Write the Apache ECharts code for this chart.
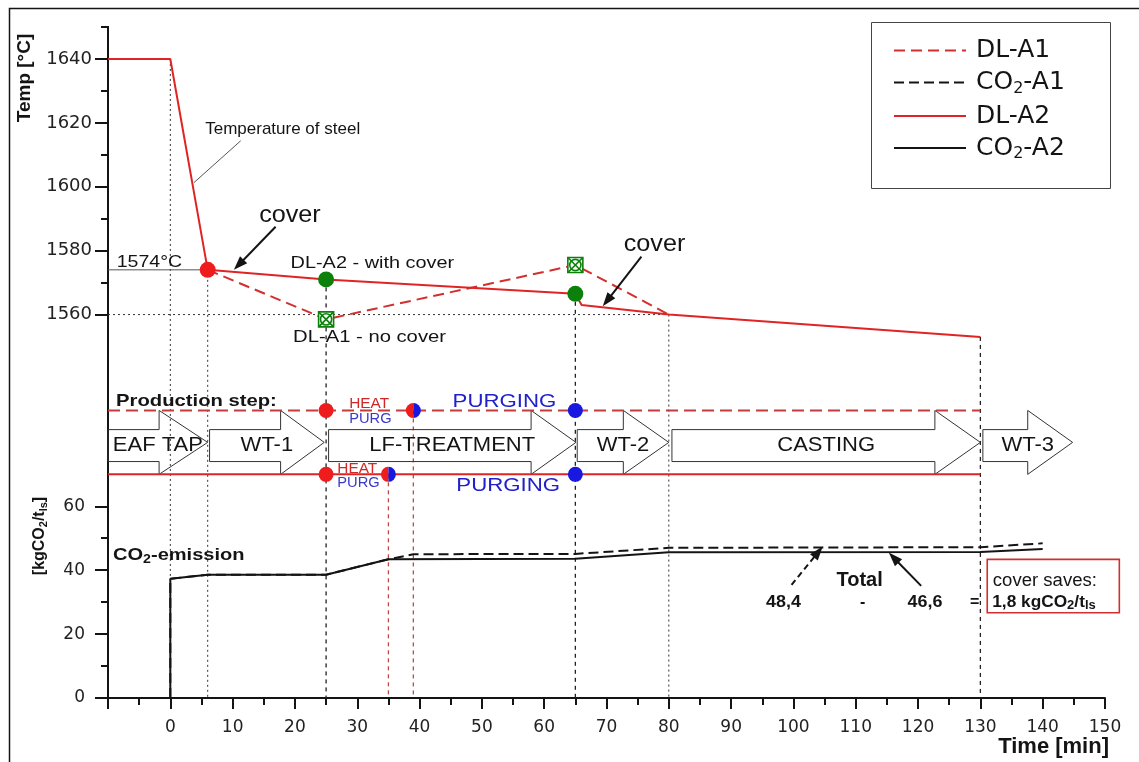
<!DOCTYPE html>
<html><head><meta charset="utf-8">
<script src="https://cdn.jsdelivr.net/npm/echarts@6/dist/echarts.min.js"></script>
<style>html,body{margin:0;padding:0;background:#fff}#c{width:1139px;height:762px}</style>
</head><body><div id="c"></div>
<script>
// ---------- data ----------
const timeTicks = [0,10,20,30,40,50,60,70,80,90,100,110,120,130,140,150];
const tempTicks = [1560,1580,1600,1620,1640];
const tempMinorTicks = [1570,1590,1610,1630,1650];
const co2Ticks = [0,20,40,60];
const co2MinorTicks = [10,30,50];

// temperature of steel [°C]
const dlA2Time = [-10, 0, 6, 25, 65, 66, 80, 130];
const dlA2Temp = [1640, 1640, 1574, 1571, 1566.5, 1563, 1560, 1553];
const dlA1Time = [6, 25, 65, 80];
const dlA1Temp = [1574, 1558.5, 1575.5, 1560];

// CO2 emission [kgCO2/tls]
const co2A2Time = [0, 0, 6, 25, 35, 65, 80, 130, 140];
const co2A2Val  = [0, 37.3, 38.6, 38.6, 43.4, 43.6, 45.6, 45.7, 46.6];
const co2A1Time = [0, 0, 6, 25, 35, 39, 65, 80, 130, 140];
const co2A1Val  = [0, 37.3, 38.6, 38.6, 43.4, 45.0, 45.1, 47.0, 47.2, 48.4];

// markers on temperature curves
const redDots = [[6, 1574]];
const greenDots = [[25, 1571], [65, 1566.5]];
const noCoverMarks = [[25, 1558.5], [65, 1575.5]];

// production steps (time, min)
const steps = ['EAF TAP', 'WT-1', 'LF-TREATMENT', 'WT-2', 'CASTING', 'WT-3'];
const stepStart = [-10, 6.3, 25.4, 65.3, 80.5, 130.4];
const stepHead  = [-1.8, 17.7, 57.9, 72.7, 122.7, 137.6];
const stepTip   = [6, 24.7, 65.1, 80, 130, 144.8];
const stepEnd = 130;
const levelA1 = 90, levelA2 = 70;   // production-step rows (lower axis units)
const heatDots = [[25, levelA1], [25, levelA2]];
const purgeDots = [[65, levelA1], [65, levelA2]];
const halfDots = [[39, levelA1], [35, levelA2]];

// guide lines [t1, v1, t2, v2]
const guideDotted = [[0,1640,0,1440],[6,1574,6,1440],[80,1560,80,1440],[-10,1560,80,1560]];
const guideDashed = [[25,1571,25,1440],[65,1566.5,65,1440],[130,1553,130,1440]];
const guideRed = [[35,levelA2,35,0],[39,levelA1,39,0]];
const guideGray = [[-10,1574,6,1574]];

// ---------- styles / helpers ----------
const F = '"Liberation Sans", Arial, sans-serif';
const D = '"DejaVu Sans", sans-serif';
const RED = '#e02424', DRED = '#c43c3c', BLUE = '#1818e0', GREEN = '#0b800b', INK = '#141414';

function segSeries(name, yIdx, rows, style, z) {
  return { type: 'custom', name, xAxisIndex: 0, yAxisIndex: yIdx, z, silent: true,
    data: rows, encode: { x: [0, 2], y: [1, 3] },
    renderItem: (p, api) => {
      const a = api.coord([api.value(0), api.value(1)]);
      const b = api.coord([api.value(2), api.value(3)]);
      return { type: 'line', shape: { x1: a[0], y1: a[1], x2: b[0], y2: b[1] },
        style: Object.assign({ fill: null }, style) };
    } };
}

const upperNotes = [
  { t: 5.6,  v: 1618,   text: 'Temperature of steel', fs: 17, sx: 1.0 },
  { t: 19.2, v: 1591.2, text: 'cover', fs: 24, sx: 1.05, align: 'center' },
  { t: -8.6, v: 1576.5, text: '1574°C', fs: 17, sx: 1.15 },
  { t: 19.3, v: 1576,   text: 'DL-A2 - with cover', fs: 17, sx: 1.17 },
  { t: 19.7, v: 1552.9, text: 'DL-A1 - no cover', fs: 17, sx: 1.19 },
  { t: 77.7, v: 1582.1, text: 'cover', fs: 24, sx: 1.05, align: 'center' }
];
const sub = (fs, bold, col, pad) => ({ fontSize: fs, fontWeight: bold ? 'bold' : 'normal', fontFamily: F, fill: col, padding: [pad, 0, 0, 0] });
const lowerNotes = [
  { t: -8.7, v: 93,   text: 'Production step:', fs: 17, bold: true, sx: 1.19 },
  { t: 28.7, v: 92.1, text: 'HEAT', fs: 14, sx: 1.1, col: '#d02828' },
  { t: 28.7, v: 87.3, text: 'PURG', fs: 14, sx: 1.05, col: '#3a3ac8' },
  { t: 45.3, v: 92.7, text: 'PURGING', fs: 19, sx: 1.17, col: '#2020cc' },
  { t: 26.8, v: 71.7, text: 'HEAT', fs: 14, sx: 1.1, col: '#d02828' },
  { t: 26.8, v: 67.3, text: 'PURG', fs: 14, sx: 1.05, col: '#3a3ac8' },
  { t: 45.9, v: 66.4, text: 'PURGING', fs: 19, sx: 1.17, col: '#2020cc' },
  { t: -9.2, v: 44.8, text: '{b|CO}{s|2}{b|-emission}', sx: 1.18,
    rich: { b: sub(17, true, INK, 0), s: sub(12, true, INK, 10) } },
  { t: 106.9, v: 36.9, text: 'Total', fs: 20, bold: true, sx: 1.0 },
  { t: 95.6,  v: 30, text: '48,4', fs: 16, bold: true, sx: 1.12 },
  { t: 111.1, v: 30, text: '-', fs: 16, bold: true, align: 'center' },
  { t: 118.3, v: 30, text: '46,6', fs: 16, bold: true, sx: 1.12 },
  { t: 129.1, v: 30, text: '=', fs: 16, bold: true, align: 'center' },
  { t: 132,   v: 36.6, text: 'cover saves:', fs: 18, sx: 1.03 },
  { t: 131.9, v: 30, text: '{b|1,8 kgCO}{s|2}{b|/t}{s|ls}', sx: 1.08,
    rich: { b: sub(16, true, INK, 0), s: sub(12, true, INK, 8) } }
];
const upperArrows = [[16.9, 1587.5, 10.2, 1574.0, 0], [75.6, 1578.1, 69.4, 1562.6, 0]];
const lowerArrows = [[99.7, 35.4, 104.7, 47.4, 1], [120.5, 35.1, 115.3, 45.5, 0]];
const leader = [[11.3, 1614.4, 3.8, 1601.3]];
const savesBox = [[131.1, 43.4, 152.3, 26.7]];

function notesSeries(yIdx, notes) {
  return { type: 'custom', xAxisIndex: 0, yAxisIndex: yIdx, z: 8, silent: true,
    data: notes.map((n, i) => [n.t, n.v, i]), encode: { x: 0, y: 1 },
    renderItem: (p, api) => {
      const n = notes[api.value(2)];
      const c = api.coord([api.value(0), api.value(1)]);
      const style = { text: n.text, fontSize: n.fs || 16, fontWeight: n.bold ? 'bold' : 'normal',
        fontFamily: F, fill: n.col || INK, align: n.align || 'left', verticalAlign: 'middle' };
      if (n.rich) style.rich = n.rich;
      return { type: 'text', x: c[0], y: c[1], scaleX: n.sx || 1, style };
    } };
}
function arrowSeries(yIdx, rows) {
  return { type: 'custom', xAxisIndex: 0, yAxisIndex: yIdx, z: 8, silent: true,
    data: rows, encode: { x: [0, 2], y: [1, 3] },
    renderItem: (p, api) => {
      const a = api.coord([api.value(0), api.value(1)]);
      const b = api.coord([api.value(2), api.value(3)]);
      const dashed = api.value(4) === 1;
      const ang = Math.atan2(b[1] - a[1], b[0] - a[0]);
      const cs = Math.cos(ang), sn = Math.sin(ang), L = 14, W = 5;
      const bx = b[0] - L * cs, by = b[1] - L * sn;
      return { type: 'group', children: [
        { type: 'line', shape: { x1: a[0], y1: a[1], x2: bx + 2 * cs, y2: by + 2 * sn },
          style: { stroke: INK, lineWidth: 2, lineDash: dashed ? [6, 4] : null } },
        { type: 'polygon', shape: { points: [[b[0], b[1]], [bx - W * sn, by + W * cs], [bx + W * sn, by - W * cs]] },
          style: { fill: INK } }
      ] };
    } };
}

const lineSeries = (name, yIdx, xs, ys, color, dash, z) => ({
  name, type: 'line', xAxisIndex: 0, yAxisIndex: yIdx, z, symbol: 'none', silent: true,
  data: xs.map((x, i) => [x, ys[i]]),
  lineStyle: { color, width: 2, type: dash || 'solid' }, itemStyle: { color }
});

const tickStyle = { color: INK, width: 2 };
const yBase = (min, max) => ({ type: 'value', min, max, position: 'left',
  axisLine: { show: true, onZero: false, lineStyle: { color: INK, width: 2 } }, splitLine: { show: false } });

const option = {
  animation: false,
  grid: { left: 108, right: 34, top: 27, bottom: 64 },
  xAxis: { type: 'value', min: -10, max: 150, interval: 10,
    axisLine: { onZero: false, lineStyle: { color: INK, width: 2 } },
    axisTick: { length: 11, lineStyle: tickStyle },
    minorTick: { show: true, splitNumber: 2, length: 7, lineStyle: tickStyle },
    axisLabel: { margin: 21, fontSize: 17, fontFamily: D, color: '#222',
      formatter: v => (timeTicks.includes(v) ? String(v) : '') },
    splitLine: { show: false }, minorSplitLine: { show: false } },
  yAxis: [
    Object.assign(yBase(1440, 1650), {
      axisTick: { length: 13, customValues: tempTicks, lineStyle: tickStyle },
      axisLabel: { customValues: tempTicks, margin: 16, fontSize: 18, fontFamily: D, color: '#222',
        formatter: v => (tempTicks.includes(v) ? String(v) : '') } }),
    Object.assign(yBase(0, 210), {
      axisTick: { length: 13, customValues: co2Ticks, lineStyle: tickStyle },
      axisLabel: { customValues: co2Ticks, margin: 23, fontSize: 17, fontFamily: D, color: '#222',
        formatter: v => (co2Ticks.includes(v) ? String(v) : '') } }),
    Object.assign(yBase(1440, 1650), {
      axisTick: { length: 7, customValues: tempMinorTicks, lineStyle: tickStyle },
      axisLabel: { show: false } }),
    Object.assign(yBase(0, 210), {
      axisTick: { length: 7, customValues: co2MinorTicks, lineStyle: tickStyle },
      axisLabel: { show: false } })
  ],
  legend: {
    data: ['DL-A1', 'CO2-A1', 'DL-A2', 'CO2-A2'], orient: 'vertical', left: 888, top: 33,
    itemWidth: 72, itemHeight: 14, itemGap: 7, selectedMode: false,
    itemStyle: { opacity: 0 },
    formatter: n => n.startsWith('CO') ? '{f|CO}{s|2}{n|' + n.slice(3) + '}' : '{f|' + n + '}',
    textStyle: { rich: {
      f: { fontFamily: D, fontSize: 25, color: INK, lineHeight: 29, padding: [0, 0, 0, 5] },
      n: { fontFamily: D, fontSize: 25, color: INK, lineHeight: 29 },
      s: { fontFamily: D, fontSize: 16, color: INK, padding: [12, 0, 0, 0] } } }
  },
  graphic: [
    { type: 'rect', shape: { x: 9.5, y: 8.5, width: 1200, height: 800 }, style: { fill: 'none', stroke: INK, lineWidth: 1.5 }, z: 0 },
    { type: 'rect', shape: { x: 871.5, y: 22.5, width: 239, height: 166 }, style: { fill: 'none', stroke: '#444', lineWidth: 1 }, z: 0 },
    { type: 'text', x: 25, y: 78, rotation: Math.PI / 2,
      style: { text: 'Temp [°C]', fontSize: 19, fontWeight: 'bold', fontFamily: F, fill: INK, align: 'center', verticalAlign: 'middle' } },
    { type: 'text', x: 40, y: 536, rotation: Math.PI / 2,
      style: { text: '{b|[kgCO}{s|2}{b|/t}{s|ls}{b|]}', align: 'center', verticalAlign: 'middle',
        rich: { b: sub(16, true, INK, 0), s: sub(11, true, INK, 8) } } },
    { type: 'text', x: 1109, y: 747,
      style: { text: 'Time [min]', fontSize: 22, fontWeight: 'bold', fontFamily: F, fill: INK, align: 'right', verticalAlign: 'middle' } }
  ],
  series: [
    segSeries('gDot', 0, guideDotted, { stroke: '#333', lineWidth: 1, lineDash: [2, 3] }, 1),
    segSeries('gDash', 0, guideDashed, { stroke: '#222', lineWidth: 1.3, lineDash: [4, 4] }, 1),
    segSeries('gRed', 1, guideRed, { stroke: '#c04848', lineWidth: 1.3, lineDash: [4, 4] }, 1),
    segSeries('gGray', 0, guideGray, { stroke: '#555', lineWidth: 1 }, 1),
    segSeries('leader', 0, leader, { stroke: '#555', lineWidth: 1 }, 1),
    // production-step arrows
    { type: 'custom', xAxisIndex: 0, yAxisIndex: 1, z: 2, silent: true,
      data: steps.map((s, i) => [stepStart[i], 80, stepTip[i]]), encode: { x: [0, 2], y: 1 },
      renderItem: (p, api) => {
        const i = p.dataIndex, s = stepStart[i], h = stepHead[i], tp = stepTip[i];
        const P = (t, v) => api.coord([t, v]);
        const pts = [P(s, 84), P(h, 84), P(h, 90), P(tp, 80), P(h, 70), P(h, 74), P(s, 74)];
        const c = P((s + tp) / 2, 79);
        return { type: 'group', children: [
          { type: 'polygon', shape: { points: pts }, style: { fill: 'none', stroke: '#333', lineWidth: 1 } },
          { type: 'text', x: c[0], y: c[1], scaleX: 1.1, z2: 5,
            style: { text: steps[i], fontSize: 20, fontFamily: F, fill: INK, align: 'center', verticalAlign: 'middle' } }
        ] };
      } },
    lineSeries('stepA1', 1, [-10, stepEnd], [levelA1, levelA1], DRED, [12, 6], 3),
    lineSeries('stepA2', 1, [-10, stepEnd], [levelA2, levelA2], RED, 'solid', 3),
    lineSeries('DL-A1', 0, dlA1Time, dlA1Temp, '#d23030', [11, 6], 4),
    lineSeries('CO2-A1', 1, co2A1Time, co2A1Val, INK, [10, 5], 4),
    lineSeries('DL-A2', 0, dlA2Time, dlA2Temp, RED, 'solid', 5),
    lineSeries('CO2-A2', 1, co2A2Time, co2A2Val, INK, 'solid', 5),
    { type: 'scatter', xAxisIndex: 0, yAxisIndex: 0, z: 6, silent: true, symbolSize: 16, data: redDots, itemStyle: { color: '#ee1c1c', opacity: 1 } },
    { type: 'scatter', xAxisIndex: 0, yAxisIndex: 0, z: 6, silent: true, symbolSize: 16, data: greenDots, itemStyle: { color: GREEN, opacity: 1 } },
    { type: 'scatter', xAxisIndex: 0, yAxisIndex: 1, z: 6, silent: true, symbolSize: 15, data: heatDots, itemStyle: { color: '#ee1c1c', opacity: 1 } },
    { type: 'scatter', xAxisIndex: 0, yAxisIndex: 1, z: 6, silent: true, symbolSize: 15, data: purgeDots, itemStyle: { color: BLUE, opacity: 1 } },
    { type: 'custom', xAxisIndex: 0, yAxisIndex: 1, z: 6, silent: true, data: halfDots, encode: { x: 0, y: 1 },
      renderItem: (p, api) => {
        const c = api.coord([api.value(0), api.value(1)]), r = 7.5;
        return { type: 'group', children: [
          { type: 'sector', shape: { cx: c[0], cy: c[1], r, r0: 0, startAngle: Math.PI / 2, endAngle: Math.PI * 1.5 }, style: { fill: '#ee1c1c' } },
          { type: 'sector', shape: { cx: c[0], cy: c[1], r, r0: 0, startAngle: -Math.PI / 2, endAngle: Math.PI / 2 }, style: { fill: BLUE } }
        ] };
      } },
    { type: 'custom', xAxisIndex: 0, yAxisIndex: 0, z: 6, silent: true, data: noCoverMarks, encode: { x: 0, y: 1 },
      renderItem: (p, api) => {
        const c = api.coord([api.value(0), api.value(1)]), s = 7.5;
        const st = { stroke: GREEN, lineWidth: 1.6 };
        return { type: 'group', children: [
          { type: 'rect', shape: { x: c[0] - s, y: c[1] - s, width: 2 * s, height: 2 * s }, style: Object.assign({ fill: '#fff' }, st) },
          { type: 'line', shape: { x1: c[0] - s, y1: c[1] - s, x2: c[0] + s, y2: c[1] + s }, style: st },
          { type: 'line', shape: { x1: c[0] + s, y1: c[1] - s, x2: c[0] - s, y2: c[1] + s }, style: st },
          { type: 'circle', shape: { cx: c[0], cy: c[1], r: s * 0.75 }, style: Object.assign({ fill: 'none' }, st) }
        ] };
      } },
    // cover-saves box
    { type: 'custom', xAxisIndex: 0, yAxisIndex: 1, z: 7, silent: true, data: savesBox, encode: { x: [0, 2], y: [1, 3] },
      renderItem: (p, api) => {
        const a = api.coord([api.value(0), api.value(1)]), b = api.coord([api.value(2), api.value(3)]);
        return { type: 'rect', shape: { x: a[0], y: a[1], width: b[0] - a[0], height: b[1] - a[1] },
          style: { fill: '#fff', stroke: '#d03030', lineWidth: 1.6 } };
      } },
    notesSeries(0, upperNotes),
    notesSeries(1, lowerNotes),
    arrowSeries(0, upperArrows),
    arrowSeries(1, lowerArrows)
  ]
};
const chart = echarts.init(document.getElementById('c'));
chart.setOption(option);
</script>
</body></html>
